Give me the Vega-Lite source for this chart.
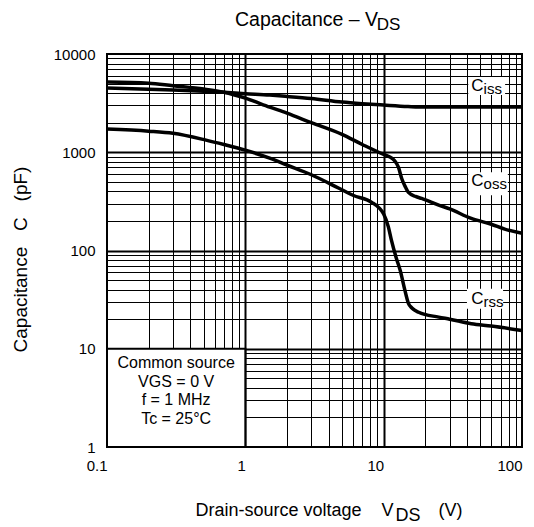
{
  "$schema": "https://vega.github.io/schema/vega-lite/v6.json",
  "width": 415,
  "height": 393,
  "autosize": "none",
  "padding": {"left": 107, "top": 54, "right": 12, "bottom": 80},
  "background": "white",
  "config": {
    "font": "Liberation Sans",
    "view": {"stroke": "black", "strokeWidth": 2},
    "text": {"font": "Liberation Sans", "color": "black"}
  },
  "title": {
    "text": "Capacitance – V",
    "subtitle": "\u200b\u00a0\u00a0\u00a0\u00a0\u00a0\u00a0\u00a0\u00a0\u00a0\u00a0\u00a0\u00a0\u00a0\u00a0\u00a0\u00a0\u00a0\u00a0\u00a0\u00a0\u00a0\u00a0\u00a0\u00a0\u00a0\u00a0\u00a0\u00a0\u00a0\u00a0DS",
    "anchor": "start",
    "frame": "group",
    "dx": 128,
    "offset": 13,
    "font": "Liberation Sans",
    "fontSize": 19.5,
    "fontWeight": "normal",
    "color": "black",
    "subtitleFont": "Liberation Sans",
    "subtitleFontSize": 17,
    "subtitleColor": "black",
    "subtitlePadding": -13.5
  },
  "datasets": {
    "curves": [
      {"series": "Ciss", "vds": 0.1, "c": 4500},
      {"series": "Ciss", "vds": 0.2, "c": 4380},
      {"series": "Ciss", "vds": 0.3, "c": 4300},
      {"series": "Ciss", "vds": 0.5, "c": 4180},
      {"series": "Ciss", "vds": 0.7, "c": 4080},
      {"series": "Ciss", "vds": 1, "c": 3950},
      {"series": "Ciss", "vds": 1.5, "c": 3820},
      {"series": "Ciss", "vds": 2, "c": 3700},
      {"series": "Ciss", "vds": 3, "c": 3520},
      {"series": "Ciss", "vds": 5, "c": 3240},
      {"series": "Ciss", "vds": 7, "c": 3120},
      {"series": "Ciss", "vds": 10, "c": 3020},
      {"series": "Ciss", "vds": 15, "c": 2920},
      {"series": "Ciss", "vds": 20, "c": 2880},
      {"series": "Ciss", "vds": 30, "c": 2880},
      {"series": "Ciss", "vds": 50, "c": 2880},
      {"series": "Ciss", "vds": 100, "c": 2880},
      {"series": "Coss", "vds": 0.1, "c": 5200},
      {"series": "Coss", "vds": 0.2, "c": 5050},
      {"series": "Coss", "vds": 0.3, "c": 4750},
      {"series": "Coss", "vds": 0.5, "c": 4400},
      {"series": "Coss", "vds": 0.7, "c": 4080},
      {"series": "Coss", "vds": 1, "c": 3550},
      {"series": "Coss", "vds": 1.5, "c": 2880},
      {"series": "Coss", "vds": 2, "c": 2500},
      {"series": "Coss", "vds": 3, "c": 2000},
      {"series": "Coss", "vds": 5, "c": 1520},
      {"series": "Coss", "vds": 7, "c": 1200},
      {"series": "Coss", "vds": 10, "c": 950},
      {"series": "Coss", "vds": 11, "c": 900},
      {"series": "Coss", "vds": 12, "c": 820},
      {"series": "Coss", "vds": 12.8, "c": 700},
      {"series": "Coss", "vds": 13.5, "c": 540},
      {"series": "Coss", "vds": 14.4, "c": 440},
      {"series": "Coss", "vds": 15.1, "c": 390},
      {"series": "Coss", "vds": 17, "c": 355},
      {"series": "Coss", "vds": 18.8, "c": 339},
      {"series": "Coss", "vds": 25, "c": 290},
      {"series": "Coss", "vds": 30, "c": 265},
      {"series": "Coss", "vds": 43, "c": 212},
      {"series": "Coss", "vds": 60, "c": 185},
      {"series": "Coss", "vds": 75, "c": 165},
      {"series": "Coss", "vds": 100, "c": 150},
      {"series": "Crss", "vds": 0.1, "c": 1720},
      {"series": "Crss", "vds": 0.2, "c": 1640},
      {"series": "Crss", "vds": 0.3, "c": 1560},
      {"series": "Crss", "vds": 0.52, "c": 1330},
      {"series": "Crss", "vds": 0.7, "c": 1200},
      {"series": "Crss", "vds": 1, "c": 1050},
      {"series": "Crss", "vds": 1.5, "c": 870},
      {"series": "Crss", "vds": 2, "c": 740},
      {"series": "Crss", "vds": 3, "c": 590},
      {"series": "Crss", "vds": 4.75, "c": 430},
      {"series": "Crss", "vds": 6, "c": 365},
      {"series": "Crss", "vds": 8.2, "c": 309},
      {"series": "Crss", "vds": 9.3, "c": 270},
      {"series": "Crss", "vds": 10, "c": 235},
      {"series": "Crss", "vds": 10.8, "c": 175},
      {"series": "Crss", "vds": 11.4, "c": 126},
      {"series": "Crss", "vds": 12.3, "c": 85},
      {"series": "Crss", "vds": 13.2, "c": 62},
      {"series": "Crss", "vds": 14.2, "c": 40},
      {"series": "Crss", "vds": 15.1, "c": 29},
      {"series": "Crss", "vds": 16, "c": 26},
      {"series": "Crss", "vds": 17.9, "c": 23.5},
      {"series": "Crss", "vds": 25, "c": 21},
      {"series": "Crss", "vds": 30, "c": 20},
      {"series": "Crss", "vds": 43, "c": 18},
      {"series": "Crss", "vds": 60, "c": 17},
      {"series": "Crss", "vds": 100, "c": 15.3}
    ],
    "tags": [
      {"main": "C", "sub": "iss", "vds": 43, "c": 4710, "x1": 40.9, "x2": 75.5, "y1": 3820, "y2": 5820},
      {"main": "C", "sub": "oss", "vds": 43, "c": 506, "x1": 40.9, "x2": 79, "y1": 364, "y2": 625},
      {"main": "C", "sub": "rss", "vds": 43, "c": 32.4, "x1": 40, "x2": 73, "y1": 25.6, "y2": 40.9}
    ],
    "conditions": [
      {"line": "Common source", "vds": 0.316, "c": 7.2},
      {"line": "VGS = 0 V", "vds": 0.316, "c": 4.6},
      {"line": "f = 1 MHz", "vds": 0.316, "c": 3.0},
      {"line": "Tc = 25°C", "vds": 0.316, "c": 1.95}
    ],
    "box": [
      {"x1": 0.1, "x2": 1, "y1": 1, "y2": 10}
    ]
  },
  "encoding": {
    "x": {
      "field": "vds",
      "type": "quantitative",
      "scale": {"type": "log", "domain": [0.1, 100], "nice": false},
      "axis": {
        "values": [0.1, 0.2, 0.3, 0.4, 0.5, 0.6, 0.7, 0.8, 0.9, 1, 2, 3, 4, 5, 6, 7, 8, 9, 10, 20, 30, 40, 50, 60, 70, 80, 90, 100],
        "labelExpr": "(datum.value == 0.1 || datum.value == 1 || datum.value == 10 || datum.value == 100) ? format(datum.value, '~g') : ''",
        "labelOverlap": false,
        "labelFlush": false,
        "labelAlign": "right",
        "labelBaseline": "top",
        "labelPadding": 11,
        "labelFontSize": 15,
        "labelFont": "Liberation Sans",
        "labelColor": "black",
        "ticks": false,
        "tickSize": 0,
        "domain": false,
        "grid": true,
        "gridColor": "black",
        "gridOpacity": 1,
        "gridWidth": {"condition": {"test": "datum.value == 1 || datum.value == 10", "value": 2}, "value": 1},
        "title": ["Drain-source voltage\u00a0\u00a0\u00a0\u00a0V\u00a0\u00a0\u00a0\u00a0\u00a0\u00a0\u00a0\u00a0\u00a0(V)", "\u200b\u00a0\u00a0\u00a0\u00a0\u00a0\u00a0\u00a0\u00a0\u00a0\u00a0\u00a0\u00a0\u00a0\u00a0\u00a0\u00a0\u00a0\u00a0\u00a0\u00a0\u00a0\u00a0\u00a0\u00a0\u00a0\u00a0\u00a0\u00a0\u00a0\u00a0\u00a0\u00a0\u00a0\u00a0\u00a0\u00a0\u00a0\u00a0\u00a0\u00a0DS"],
        "titleFont": "Liberation Sans",
        "titleFontSize": 18,
        "titleFontWeight": "normal",
        "titleColor": "black",
        "titleAlign": "left",
        "titleBaseline": "alphabetic",
        "titleX": 88,
        "titleY": 68,
        "titleLineHeight": 5
      }
    },
    "y": {
      "field": "c",
      "type": "quantitative",
      "scale": {"type": "log", "domain": [1, 10000], "nice": false},
      "axis": {
        "values": [1, 2, 3, 4, 5, 6, 7, 8, 9, 10, 20, 30, 40, 50, 60, 70, 80, 90, 100, 200, 300, 400, 500, 600, 700, 800, 900, 1000, 2000, 3000, 4000, 5000, 6000, 7000, 8000, 9000, 10000],
        "labelExpr": "(datum.value == 1 || datum.value == 10 || datum.value == 100 || datum.value == 1000 || datum.value == 10000) ? format(datum.value, '~g') : ''",
        "labelOverlap": false,
        "labelFlush": false,
        "labelAlign": "right",
        "labelBaseline": "middle",
        "labelPadding": 12,
        "labelFontSize": 15,
        "labelFont": "Liberation Sans",
        "labelColor": "black",
        "ticks": false,
        "tickSize": 0,
        "domain": false,
        "grid": true,
        "gridColor": "black",
        "gridOpacity": 1,
        "gridWidth": {"condition": {"test": "datum.value == 10 || datum.value == 100 || datum.value == 1000", "value": 2}, "value": 1},
        "title": "Capacitance\u00a0\u00a0\u00a0C\u00a0\u00a0\u00a0(pF)",
        "titleFont": "Liberation Sans",
        "titleFontSize": 19,
        "titleFontWeight": "normal",
        "titleColor": "black",
        "titlePadding": 23,
        "titleY": 205
      }
    }
  },
  "layer": [
    {
      "data": {"name": "box"},
      "mark": {"type": "rect", "fill": "white", "stroke": "black", "strokeWidth": 2},
      "encoding": {
        "x": {"field": "x1", "type": "quantitative"},
        "x2": {"field": "x2"},
        "y": {"field": "y1", "type": "quantitative"},
        "y2": {"field": "y2"}
      }
    },
    {
      "data": {"name": "conditions"},
      "mark": {"type": "text", "fontSize": 16, "align": "center", "baseline": "middle"},
      "encoding": {
        "text": {"field": "line"}
      }
    },
    {
      "data": {"name": "tags"},
      "mark": {"type": "rect", "fill": "white"},
      "encoding": {
        "x": {"field": "x1", "type": "quantitative"},
        "x2": {"field": "x2"},
        "y": {"field": "y1", "type": "quantitative"},
        "y2": {"field": "y2"}
      }
    },
    {
      "data": {"name": "tags"},
      "mark": {"type": "text", "fontSize": 17, "align": "left", "baseline": "middle"},
      "encoding": {
        "text": {"field": "main"}
      }
    },
    {
      "data": {"name": "tags"},
      "mark": {"type": "text", "fontSize": 15, "align": "left", "baseline": "middle", "dx": 12.3, "dy": 3},
      "encoding": {
        "text": {"field": "sub"}
      }
    },
    {
      "data": {"name": "curves"},
      "mark": {"type": "line", "color": "black", "strokeWidth": 3.5, "interpolate": "monotone"},
      "encoding": {
        "detail": {"field": "series"}
      }
    }
  ]
}
